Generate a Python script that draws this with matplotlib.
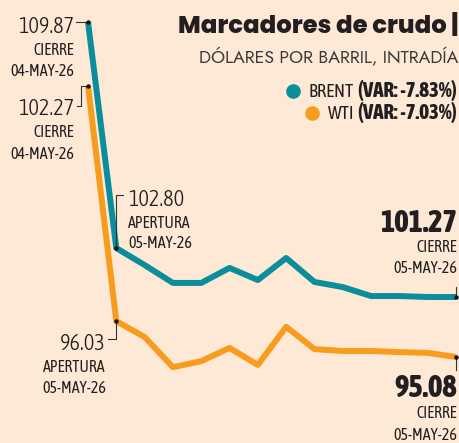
import matplotlib.pyplot as plt
import matplotlib.font_manager as fm
from matplotlib.lines import Line2D
from matplotlib.transforms import IdentityTransform

# datos intradia (primer punto = cierre del dia anterior)
horas = list(range(14))
brent = [109.87, 102.80, 102.27, 101.71, 101.71, 102.18, 101.80, 102.49,
         101.74, 101.58, 101.30, 101.30, 101.27, 101.27]
wti = [102.27, 96.03, 95.61, 94.81, 94.97, 95.32, 94.87, 95.88,
       95.29, 95.24, 95.24, 95.21, 95.19, 95.08]
variacion = {'BRENT': '-7.83%', 'WTI': '-7.03%'}

W, H = 459, 443
FONDO = '#FDE9D6'
AZUL = '#0B8E9C'
NARANJA = '#F89C1E'
TEXTO = '#231F20'


def elegir(opciones, peso_min=0):
    for o in opciones:
        if any(f.name == o and int(f.weight) >= peso_min
               for f in fm.fontManager.ttflist):
            return [o, 'DejaVu Sans']
    return ['DejaVu Sans']


COND = elegir(['Asap Condensed', 'Archivo Narrow', 'Sofia Sans Condensed',
               'Liberation Sans Narrow'])
GEOM = elegir(['Jost', 'League Spartan', 'Poppins', 'Lato'])
GEOM_NEGRA = elegir(['Jost', 'League Spartan', 'Poppins', 'Lato'], 800)


def fx(x):
    return x / W


def fy(y):
    return 1 - y / H


fig = plt.figure(figsize=(W / 100, H / 100), dpi=100, facecolor=FONDO)
ax1 = fig.add_axes([fx(88), 0, (456 - 88) / W, 1])
ax1.set_facecolor(FONDO)
ax2 = ax1.twinx()
for ax in (ax1, ax2):
    ax.set_xlim(0, 13)
    ax.axis('off')
ax1.set_ylim(96.705, 110.557)
ax2.set_ylim(92.799, 104.549)

ax1.plot(horas, brent, color=AZUL, lw=4.3, solid_joinstyle='round',
         solid_capstyle='butt', clip_on=False)
ax2.plot(horas, wti, color=NARANJA, lw=4.3, solid_joinstyle='round',
         solid_capstyle='butt', clip_on=False)


def conector(ax, i, serie, offs):
    px, py = ax.transData.transform((horas[i], serie[i]))
    xs = [px + dx for dx, dy in offs]
    ys = [py - dy for dx, dy in offs]
    fig.add_artist(Line2D(xs, ys, color='#333333', lw=0.8,
                          transform=IdentityTransform()))
    fig.add_artist(Line2D([px], [py], marker='o', ms=2.2, color='#111111',
                          transform=IdentityTransform()))


conector(ax1, 0, brent, [(0, 0), (-12, 0)])
conector(ax2, 0, wti, [(0, 0), (-7, 0), (-7, 20), (-11, 20)])
conector(ax1, 1, brent, [(0, 0), (0, -53), (7, -53)])
conector(ax2, 1, wti, [(0, 0), (0, 18), (-8, 18)])
conector(ax1, 13, brent, [(0, 0), (0, -10)])
conector(ax2, 13, wti, [(0, 0), (0, 13)])


def etiqueta(x, ys, valor, tipo, fecha, ha, grande=16, peso=300):
    fig.text(fx(x), fy(ys[0]), valor, ha=ha, va='baseline', fontsize=grande,
             family=COND, color=TEXTO, weight=peso)
    fig.text(fx(x), fy(ys[1]), tipo, ha=ha, va='baseline', fontsize=11.5,
             family=COND, color=TEXTO)
    fig.text(fx(x), fy(ys[2]), fecha, ha=ha, va='baseline', fontsize=11.5,
             family=COND, color=TEXTO)


etiqueta(74, (33, 55, 76), f'{brent[0]:.2f}', 'CIERRE', '04-MAY-26', 'right')
etiqueta(74, (115, 137, 159), f'{wti[0]:.2f}', 'CIERRE', '04-MAY-26', 'right')
etiqueta(128, (206, 228, 248), f'{brent[1]:.2f}', 'APERTURA', '05-MAY-26', 'left')
etiqueta(106, (350, 372, 393), f'{wti[1]:.2f}', 'APERTURA', '05-MAY-26', 'right')
etiqueta(457, (232, 252, 273), f'{brent[-1]:.2f}', 'CIERRE', '05-MAY-26', 'right',
         grande=22, peso=800)
etiqueta(457, (397, 418, 440), f'{wti[-1]:.2f}', 'CIERRE', '05-MAY-26', 'right',
         grande=22, peso=800)

# titulo
fig.text(fx(458), fy(33), 'Marcadores de crudo |', ha='right', va='baseline',
         fontsize=17.5, family=GEOM_NEGRA, weight=800, color=TEXTO)
fig.text(fx(458), fy(63), 'DÓLARES POR BARRIL, INTRADÍA', ha='right',
         va='baseline', fontsize=12.8, family=GEOM, weight=300, color='#3a3a3a')

# leyenda
renderer = fig.canvas.get_renderer()
for nombre, color, y in [('BRENT', AZUL, 97), ('WTI', NARANJA, 119)]:
    t = fig.text(fx(457), fy(y), f'(VAR: {variacion[nombre]})', ha='right',
                 va='baseline', fontsize=15, family=COND, weight=800,
                 color=TEXTO)
    x0 = t.get_window_extent(renderer).x0
    t2 = fig.text((x0 - 4) / W, fy(y), nombre, ha='right', va='baseline',
                  fontsize=13.5, family=COND, color=TEXTO)
    x1 = t2.get_window_extent(renderer).x0
    fig.add_artist(Line2D([x1 - 16], [H - y + 6], marker='o', ms=9.5,
                          color=color, transform=IdentityTransform()))

fig.savefig('out.png', dpi=100, facecolor=FONDO)
